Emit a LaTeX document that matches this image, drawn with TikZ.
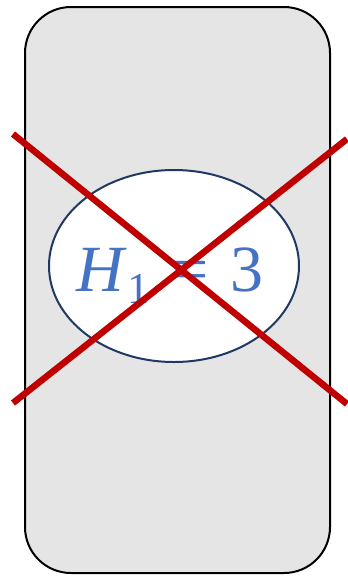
\documentclass[tikz,border=0pt]{standalone}
\usepackage{fontspec}
\setmainfont{Liberation Serif}
\definecolor{boxgray}{HTML}{E5E5E5}
\definecolor{txtblue}{HTML}{4472C4}
\definecolor{crossred}{HTML}{C00000}
\definecolor{navy}{HTML}{1F3864}
\begin{document}
\begin{tikzpicture}[x=1pt,y=-1pt,
  card/.style={draw=black,line width=2pt,fill=boxgray,rounded corners=46pt},
  oval/.style={draw=navy,line width=2pt,fill=white},
  strike/.style={draw=crossred,line width=6.5pt}]
\useasboundingbox (0,0) rectangle (348,579);
\draw[card] (25,7) rectangle (330,573);
\draw[oval] (174,266) ellipse [x radius=125, y radius=96];
\node[text=txtblue,inner sep=0pt,anchor=base] (lbl) at (170,291)
  {\fontsize{66}{66}\selectfont\itshape H\kern3pt\raisebox{-12pt}{\fontsize{44}{44}\selectfont\upshape 1}\upshape\kern22pt=\kern22pt3};
\coordinate (a1) at (13,134);
\coordinate (a2) at (347,404);
\coordinate (b1) at (13,403);
\coordinate (b2) at (347,139);
\draw[strike] (a1) -- (a2);
\draw[strike] (b1) -- (b2);
\end{tikzpicture}
\end{document}
